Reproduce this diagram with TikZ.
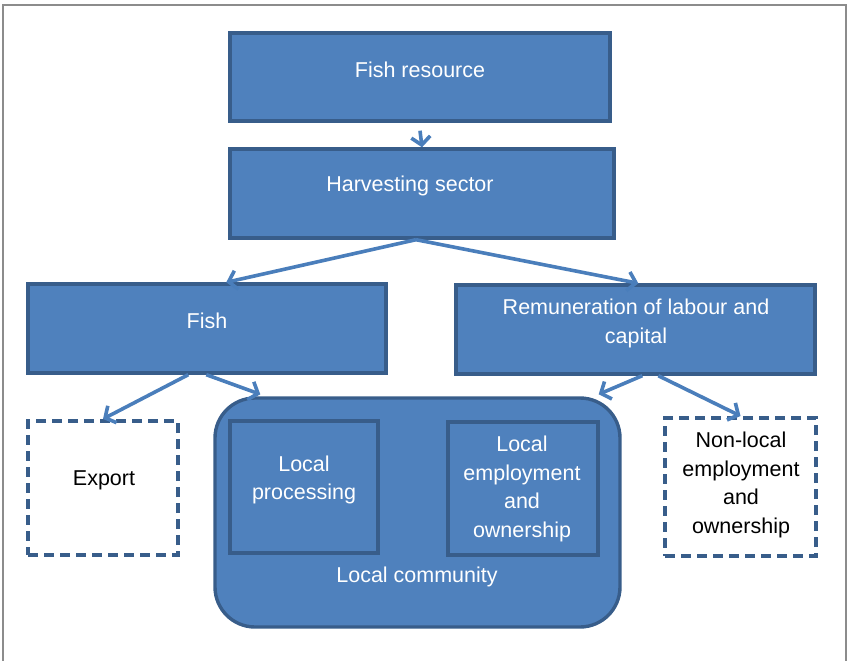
\documentclass[tikz,border=0pt]{standalone}
\usepackage{fontspec}
\setmainfont{Liberation Sans}
\usetikzlibrary{arrows.meta,calc}
\definecolor{boxfill}{HTML}{4F81BD}
\definecolor{boxline}{HTML}{385D8A}
\definecolor{arrowc}{HTML}{4A7EBB}
\definecolor{framec}{HTML}{8C8C8C}
\begin{document}
\begin{tikzpicture}[x=1pt,y=-1pt,
  box/.style={draw=boxline, fill=boxfill, line width=3.4pt, inner sep=0pt},
  dbox/.style={draw=boxline, fill=white, line width=4pt, dash pattern=on 10pt off 6pt, inner sep=0pt},
  txt/.style={text=white, font=\fontsize{21.5}{28.5}\selectfont, align=center, inner sep=0pt},
  btxt/.style={txt, text=black},
  arr/.style={draw=arrowc, line width=3.6pt, -{Straight Barb[length=8pt,width=19pt]}}]
\useasboundingbox (0,0) rectangle (847,661);
\draw[framec, line width=1.5pt] (3,661) -- (3,5) -- (846,5) -- (846,661);

% boxes
\node[box, minimum width=380pt, minimum height=88pt] (fr) at (420,77) {};
\node[box, minimum width=384pt, minimum height=89pt] (hs) at (422,193.5) {};
\node[box, minimum width=358pt, minimum height=89pt] (fish) at (207,328.5) {};
\node[box, minimum width=359pt, minimum height=89pt] (rem) at (635.5,329.5) {};
\node[dbox, minimum width=150pt, minimum height=134pt] (exp) at (103,488) {};
\node[box, rounded corners=40pt, minimum width=405pt, minimum height=229pt] (lc) at (417.5,512.5) {};
\node[box, minimum width=148pt, minimum height=132pt] (lp) at (304,487) {};
\node[box, minimum width=150pt, minimum height=133pt] (le) at (523,488.5) {};
\node[dbox, minimum width=151pt, minimum height=138pt] (nl) at (740.5,487) {};

% texts
\node[txt] (frt) at (420,70) {Fish resource};
\node[txt] (hst) at (410,186) {Harvesting sector};
\node[txt] (fisht) at (207,321) {Fish};
\node[txt] (remt) at (636,323.5) {Remuneration of labour and\\capital};
\node[btxt] (expt) at (104,480) {Export};
\node[txt] (lpt) at (304,480) {Local\\processing};
\node[txt] (let) at (522,489) {Local\\employment\\and\\ownership};
\node[btxt] (nlt) at (741,485) {Non-local\\employment\\and\\ownership};
\node[txt] (lct) at (417,577) {Local community};

% arrows
\draw[arr] ([yshift=-8pt]fr.south) -- (hs.north);
\draw[arr] ([xshift=-6pt]hs.south) -- ([xshift=200pt]fish.north west);
\draw[arr] ([xshift=-6pt]hs.south) -- ([xshift=184pt]rem.north west);
\draw[arr] ([xshift=162pt]fish.south west) -- (exp.north);
\draw[arr] ([xshift=180pt]fish.south west) -- ([xshift=47pt,yshift=2pt]lc.north west);
\draw[arr] ([xshift=188pt]rem.south west) -- ([xshift=-23pt,yshift=2pt]lc.north east);
\draw[arr] ([xshift=204pt]rem.south west) -- (nl.north);
\end{tikzpicture}
\end{document}
